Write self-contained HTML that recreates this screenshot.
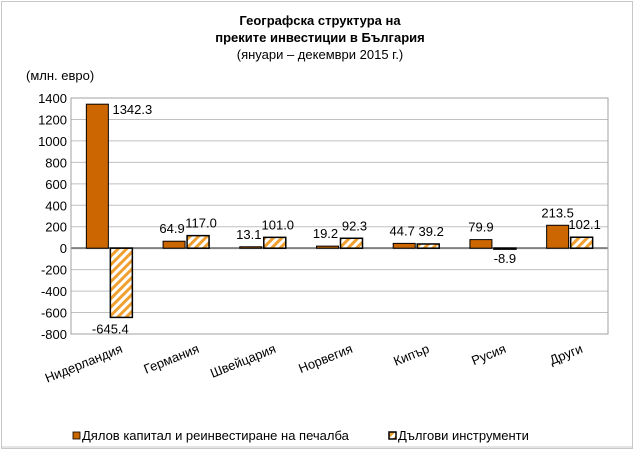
<!DOCTYPE html>
<html><head><meta charset="utf-8"><style>
body{margin:0;background:#fff;}
svg{display:block;font-family:"Liberation Sans",Arial,sans-serif;}
</style></head><body>
<svg width="635" height="452" xmlns="http://www.w3.org/2000/svg">
<defs>
<pattern id="hatch" patternUnits="userSpaceOnUse" width="6" height="6" patternTransform="rotate(45)">
<rect width="6" height="6" fill="#fff"/><rect width="3" height="6" fill="#f0a030"/>
</pattern>
</defs>
<rect x="1.5" y="1.5" width="631" height="447" fill="#fff" stroke="#c8c8c8"/>
<g font-size="13" font-weight="bold" text-anchor="middle">
<text x="320" y="25">Географска структура на</text>
<text x="320" y="42">преките инвестиции в България</text>
<text x="320" y="59" font-weight="normal">(януари – декември 2015 г.)</text>
</g>
<text x="26" y="80" font-size="13">(млн. евро)</text>
<g id="grid"></g>
<g id="bars"></g>
<g id="labels"></g>
<g font-size="13">
<rect x="73" y="432" width="7" height="7" fill="#cc6600" stroke="#000" stroke-width="0.8"/>
<text x="82" y="440">Дялов капитал и реинвестиране на печалба</text>
<rect x="389" y="432" width="7" height="7" fill="url(#hatch)" stroke="#000" stroke-width="1.5"/>
<text x="398" y="440">Дългови инструменти</text>
</g>
<script>
const categories=["Нидерландия","Германия","Швейцария","Норвегия","Кипър","Русия","Други"];
const equity=[1342.3,64.9,13.1,19.2,44.7,79.9,213.5];
const debt=[-645.4,117.0,101.0,92.3,39.2,-8.9,102.1];
const ticks=[1400,1200,1000,800,600,400,200,0,-200,-400,-600,-800];
const NS="http://www.w3.org/2000/svg";
const x0=71,x1=608,yTop=98,yBot=334,vMax=1400,vMin=-800;
const y=v=>yTop+(vMax-v)/(vMax-vMin)*(yBot-yTop);
const gw=(x1-x0)/categories.length, bw=22;
function mk(tag,attrs,parent){const e=document.createElementNS(NS,tag);for(const k in attrs)e.setAttribute(k,attrs[k]);parent.appendChild(e);return e;}
const grid=document.getElementById('grid'),bars=document.getElementById('bars'),labels=document.getElementById('labels');
ticks.forEach(t=>{
 const l=mk('line',{x1:x0,x2:x1,y1:y(t),y2:y(t),stroke:t===0?'#808080':'#c0c0c0','stroke-width':t===0?2:1},grid);
 
 
 const tx=mk('text',{x:x0-4,y:y(t)+5,'text-anchor':'end','font-size':13},grid);
 tx.textContent=t;
 
 
});
const frame=mk('rect',{x:x0,y:yTop,width:x1-x0,height:yBot-yTop,fill:'none',stroke:'#a0a0a0'},grid);


categories.forEach((c,i)=>{
 const cx=x0+gw*(i+0.5);
 [[equity[i],cx-bw-1,'#cc6600',1,'equity'],[debt[i],cx+1,'url(#hatch)',1.5,'debt']].forEach(([v,bx,fill,sw,s])=>{
  const top=Math.min(y(v),y(0)),h=Math.abs(y(v)-y(0));
  const r=mk('rect',{x:bx,y:top,width:bw,height:Math.max(h,0.5),fill:fill,stroke:'#000','stroke-width':sw},bars);
  
  
  const lt=mk('text',{'font-size':13,'text-anchor':'middle'},labels);
  lt.textContent=v.toFixed(1);
  
  
  let lx=bx+bw/2,ly=v>=0?y(v)-8:y(v)+14;
  if(i===0&&s==='equity'){lx=bx+bw+24;ly=y(v)+10;}
  if(i===0&&s==='debt'){lx=bx;ly=y(v)+16;}
  if(s==='equity'&&i>0&&i<5){lx=bx+bw/2-2;}
  if(s==='debt'&&i>0&&v>0){lx=bx+bw/2+3;}
  lt.setAttribute('x',lx);lt.setAttribute('y',ly);
 });
 const cl=mk('text',{'font-size':13,'text-anchor':'end',transform:`translate(${cx+14},${yBot+18}) rotate(-22)`},labels);
 cl.textContent=c;
 
 
});
const lg=mk('line',{x1:2,x2:632,y1:447,y2:447,stroke:'#c8c8c8'},grid);


</script>
</svg>
</body></html>
